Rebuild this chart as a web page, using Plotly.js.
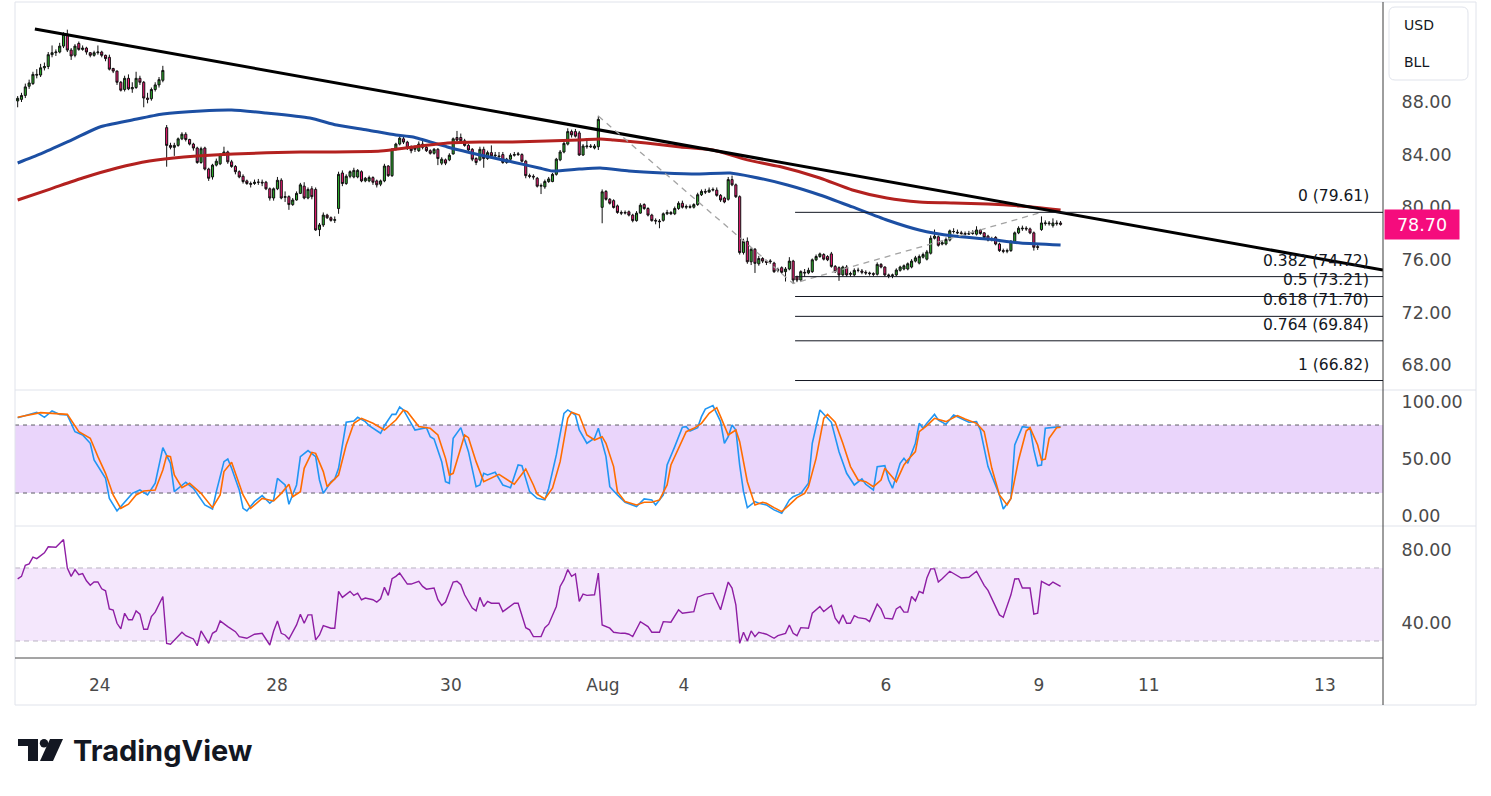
<!DOCTYPE html>
<html>
<head>
<meta charset="utf-8">
<script src="https://cdn.plot.ly/plotly-3.0.1.min.js"></script>
<style>
  html, body { margin: 0; padding: 0; background: #ffffff; }
  #chart { width: 1491px; height: 796px; }
</style>
</head>
<body>
<div id="chart"></div>
<script>
// Hourly candles (bar 0 = first candle on the left)
const openP = [
  88.08,88.2,88.5,89.2,89.4,90.1,90.05,90.6,90.7,91.6,
  91.75,91.8,92.25,93.15,91.95,91.55,92.45,92.0,92.1,91.75,
  91.55,91.75,91.8,91.55,91.4,90.55,90.35,89.5,88.95,89.8,
  89.0,89.1,89.8,89.5,88.3,88.25,88.95,89.3,89.65,86.05,
  84.7,84.55,84.7,85.2,85.55,85.15,84.8,84.5,83.4,84.5,
  82.9,82.3,83.2,83.3,84.0,84.2,83.45,83.1,82.7,82.35,
  82.0,81.8,81.8,81.9,81.9,81.9,81.4,80.7,81.4,82.05,
  80.75,80.8,80.2,80.55,81.05,81.6,80.7,81.4,81.35,78.3,
  78.65,79.4,79.2,79.0,79.9,82.6,81.8,82.35,82.3,82.3,
  82.7,82.0,82.0,82.25,82.0,81.75,82.0,83.13,82.4,84.4,
  84.8,85.2,84.95,84.6,84.4,84.3,84.8,84.55,84.3,84.1,
  84.4,83.35,83.6,83.6,84.05,85.3,85.3,85.05,84.7,84.4,
  83.7,83.6,84.4,83.7,84.15,83.9,83.9,84.0,83.4,83.65,
  83.95,84.0,84.0,83.5,82.4,82.35,82.2,81.6,81.55,81.95,
  81.95,82.5,83.6,84.2,84.8,85.75,85.75,85.65,83.97,84.6,
  84.65,84.5,84.6,79.99,81.2,80.6,80.5,80.1,79.6,79.55,
  79.65,79.4,78.98,79.55,80.2,79.9,79.4,79.0,78.95,79.0,
  79.5,79.6,79.5,79.9,80.3,80.0,80.05,80.0,80.2,80.95,
  81.2,81.15,81.3,81.3,80.9,80.7,80.6,82.1,81.7,80.8,
  76.55,77.4,75.85,76.8,75.7,76.1,75.9,75.85,75.75,75.2,
  75.4,75.1,75.3,75.9,74.7,74.46,75.05,75.0,75.1,76.0,
  76.25,76.4,76.25,76.45,75.5,75.4,74.85,75.45,74.9,74.85,
  75.2,75.15,75.05,75.0,74.95,74.9,75.65,75.45,74.85,74.8,
  74.85,75.2,75.3,75.3,75.45,75.9,75.75,76.2,76.05,76.5,
  77.64,77.75,77.2,77.2,77.5,78.15,78.1,78.05,78.0,77.95,
  78.0,77.95,78.25,78.05,77.8,77.6,77.7,77.2,76.7,76.65,
  76.7,77.35,78.05,78.35,78.4,78.35,78.05,77.0,78.3,78.75,
  78.8,78.6,78.8,78.8
];
const highP = [
  88.45,88.7,89.4,89.7,90.3,90.5,90.9,91.0,91.8,92.3,
  92.0,92.5,93.3,93.5,92.1,92.4,92.6,92.3,92.2,91.8,
  91.9,92.3,91.9,91.6,91.6,90.6,90.4,89.6,90.0,90.1,
  89.5,90.3,90.0,89.6,88.7,89.1,89.5,89.9,90.75,86.25,
  84.9,84.9,85.3,85.7,85.7,85.2,84.9,84.6,84.6,84.6,
  83.0,83.3,83.7,84.1,84.6,84.3,83.6,83.2,82.8,82.5,
  82.1,81.95,82.1,82.15,82.1,82.0,81.5,81.5,82.3,82.2,
  81.2,80.9,80.7,81.2,81.85,81.9,81.5,81.6,81.5,78.8,
  79.6,79.5,79.3,79.3,82.7,82.8,82.5,82.8,83.0,82.9,
  82.8,82.3,82.4,82.35,82.1,82.1,83.3,83.2,84.5,84.9,
  85.5,85.4,85.05,84.7,84.7,85.0,85.1,84.7,84.4,84.5,
  84.5,83.8,83.7,84.1,85.3,85.8,85.6,85.2,84.8,84.5,
  83.8,84.6,84.6,84.3,84.7,84.2,84.2,84.2,83.75,84.1,
  84.2,84.2,84.1,83.6,82.55,82.5,82.3,81.8,82.1,82.3,
  82.6,83.75,84.35,85.0,86.0,85.9,85.95,85.8,84.8,85.05,
  84.8,84.8,86.95,81.35,81.3,80.7,80.6,80.2,79.75,79.75,
  79.75,79.5,79.7,80.3,80.3,80.0,79.5,79.15,79.1,79.6,
  79.8,79.7,80.05,80.45,80.5,80.2,80.2,80.3,81.1,81.35,
  81.4,81.5,81.5,81.5,81.0,80.8,82.3,82.4,81.8,80.9,
  77.6,77.7,76.95,76.9,76.3,76.2,76.0,76.05,75.85,75.4,
  75.5,75.45,76.2,76.0,74.8,75.2,75.3,75.4,76.1,76.4,
  76.55,76.5,76.35,76.6,75.6,75.5,75.55,75.6,75.1,75.35,
  75.4,75.3,75.2,75.1,75.05,75.8,75.75,75.5,74.95,74.95,
  75.35,75.55,75.65,75.8,76.05,76.3,76.4,76.55,76.75,77.85,
  78.3,77.85,77.5,77.7,78.3,78.4,78.3,78.2,78.15,78.2,
  78.25,78.55,78.35,78.1,77.9,77.75,77.8,77.3,76.85,76.85,
  77.5,78.15,78.55,78.6,78.55,78.45,78.15,77.2,79.3,79.0,
  78.95,79.15,79.0,78.95
];
const lowP = [
  87.6,88.0,88.3,89.0,89.3,89.8,89.9,90.4,90.5,91.4,
  91.5,91.7,92.1,91.8,91.2,91.4,91.9,91.9,91.6,91.4,
  91.45,91.6,91.4,91.1,90.4,90.2,89.3,88.8,88.8,88.9,
  88.7,89.0,89.3,87.6,87.9,88.1,88.8,89.1,89.5,83.08,
  84.4,83.9,84.6,85.1,85.0,84.7,84.3,83.3,83.3,82.8,
  82.0,82.1,83.1,83.2,83.9,83.3,83.0,82.5,82.2,81.8,
  81.7,81.5,81.7,81.7,81.6,81.3,80.5,80.5,81.3,80.6,
  80.4,79.8,80.1,80.5,81.0,80.6,80.6,80.6,78.2,77.8,
  78.5,79.1,78.9,78.8,79.5,81.6,81.7,82.2,82.2,82.2,
  81.9,81.9,81.9,81.7,81.5,81.6,81.9,82.3,82.3,84.3,
  84.7,84.8,84.35,84.1,84.2,84.2,84.4,84.2,84.0,84.0,
  83.2,83.2,83.2,83.5,84.0,85.0,84.9,84.6,84.2,83.5,
  83.2,83.5,83.0,83.6,83.8,83.8,83.7,83.3,83.3,83.6,
  83.85,83.9,83.4,82.2,82.2,82.1,81.5,81.0,81.4,81.85,
  81.9,82.4,83.5,84.1,84.7,85.3,85.3,83.9,83.9,84.45,
  84.5,84.4,84.35,78.78,80.5,80.2,79.9,79.5,79.4,79.45,
  79.3,78.85,78.9,79.5,79.8,79.3,78.9,78.7,78.4,78.9,
  79.4,79.4,79.4,79.8,79.9,79.85,79.9,79.9,80.1,80.85,
  81.0,81.1,81.2,80.8,80.4,80.3,80.5,81.6,80.7,76.4,
  76.4,75.7,75.6,75.0,75.55,75.75,75.6,75.7,75.0,75.05,
  74.95,74.35,75.2,74.2,74.3,74.4,74.7,74.9,75.0,75.9,
  76.15,75.95,75.9,75.4,75.0,74.4,74.75,74.7,74.7,74.75,
  75.05,74.9,74.85,74.8,74.75,74.8,75.35,74.75,74.6,74.6,
  74.75,75.1,75.2,75.2,75.35,75.8,75.65,76.1,75.95,76.4,
  77.55,77.0,77.1,77.1,77.4,78.0,77.95,77.9,77.85,77.9,
  77.9,77.85,77.9,77.6,77.4,77.4,77.1,76.6,76.5,76.5,
  76.6,77.3,77.95,78.2,78.2,77.95,76.7,76.75,78.2,78.6,
  78.6,78.45,78.6,78.6
];
const closeP = [
  88.28,88.5,89.15,89.45,90.1,90.05,90.6,90.7,91.6,91.75,
  91.8,92.25,93.15,91.95,91.5,92.25,92.0,92.1,91.8,91.55,
  91.75,91.8,91.55,91.3,90.5,90.35,89.5,88.9,89.8,89.0,
  89.1,89.8,89.5,88.3,88.2,88.95,89.3,89.7,90.4,84.7,
  84.55,84.7,85.2,85.55,85.15,84.8,84.5,83.4,84.45,82.9,
  82.2,83.2,83.5,84.0,84.2,83.45,83.1,82.7,82.3,81.95,
  81.8,81.75,81.9,81.9,81.85,81.4,80.7,81.4,82.05,80.7,
  80.8,80.2,80.55,81.05,81.7,80.7,81.35,80.8,78.27,78.65,
  79.4,79.2,79.0,79.05,82.5,81.8,82.35,82.7,82.8,82.8,
  82.0,82.2,82.25,81.9,81.7,82.0,83.13,82.4,84.4,84.8,
  85.25,84.95,84.5,84.3,84.5,84.8,84.55,84.3,84.1,84.4,
  83.7,83.65,83.35,83.95,85.2,85.1,85.05,84.7,84.35,83.65,
  83.4,84.4,83.7,84.15,83.9,83.95,83.85,83.4,83.65,83.95,
  84.0,84.05,83.5,82.4,82.35,82.3,81.6,81.65,81.95,82.15,
  82.5,83.65,84.2,84.85,85.75,85.5,85.4,83.97,84.65,84.65,
  84.6,84.65,86.68,81.17,80.6,80.3,79.98,79.6,79.55,79.6,
  79.4,78.98,79.55,80.15,79.9,79.4,78.98,78.95,78.9,79.5,
  79.6,79.5,79.9,80.3,80.0,80.05,80.0,80.2,80.95,81.2,
  81.15,81.3,81.35,80.9,80.55,80.4,82.1,81.7,80.8,76.55,
  77.4,75.85,76.8,75.73,76.1,75.9,75.8,75.9,75.1,75.25,
  75.05,75.3,75.9,74.46,74.46,75.1,75.0,75.2,76.0,76.25,
  76.45,76.05,76.0,75.5,75.1,74.85,75.45,74.85,74.95,75.2,
  75.2,75.05,75.0,74.95,74.9,75.65,75.45,74.85,74.8,74.85,
  75.22,75.45,75.55,75.7,75.9,76.15,76.25,76.4,76.6,77.64,
  77.8,77.1,77.3,77.55,78.2,78.15,78.05,78.0,77.95,78.0,
  78.05,78.27,78.0,77.7,77.5,77.55,77.2,76.7,76.65,76.7,
  77.4,78.05,78.4,78.4,78.35,78.05,76.95,76.95,78.8,78.8,
  78.75,78.8,78.75,78.7
];

// Day labels under the chart and the bar each one sits on
const dayLabels = ['24', '28', '30', 'Aug', '4', '6', '9', '11', '13'];
const dayBars = [21.5, 67.9, 113.4, 153.2, 174.4, 227.3, 267.3, 296.1, 342.2];

// Moving averages (blue = faster, red = slower), sampled along the line
const maBlueBar = [0, 6, 13, 21.5, 30, 38, 48, 56, 65, 76.5, 83.5, 91.5, 99, 103.5, 112.5, 121, 129.5, 136.5,
  140, 147, 152.5, 160, 169, 178, 186.5, 192.5, 201.5, 210, 218.5, 227.5, 236, 245, 254, 262.5, 273];
const maBlue = [83.36, 84.05, 84.96, 86.10, 86.63, 87.09, 87.32, 87.39, 87.16, 86.78, 86.25, 85.87, 85.49, 85.34,
  84.58, 83.97, 83.44, 82.98, 82.75, 82.90, 82.98, 82.75, 82.60, 82.52, 82.60, 82.30, 81.69, 80.93, 80.02, 79.03,
  78.27, 77.81, 77.58, 77.28, 77.13];
const maRedBar = [0, 8.5, 17, 26, 34.5, 43.5, 56.5, 74, 82.5, 95, 103.5, 112.5, 121, 129.5, 138.5, 147, 152.5,
  156, 164.5, 173.5, 182, 191, 199.5, 210, 218.5, 227.5, 236, 245, 254, 262.5, 273];
const maRed = [80.55, 81.38, 82.22, 82.98, 83.51, 83.82, 84.05, 84.20, 84.20, 84.27, 84.58, 84.88, 84.96, 84.96,
  85.03, 85.11, 85.19, 85.11, 84.88, 84.58, 84.35, 83.6, 83.09, 82.22, 81.31, 80.70, 80.40, 80.32, 80.24, 80.09, 79.79];

// Drawn trend line and the fib tool
const trendBar = [4.5, 357.4];
const trendPrice = [93.55, 75.22];
const fibPathBar = [152, 203, 268];
const fibPathPrice = [86.93, 74.2, 79.61];
const fibRatios = ['0', '0.382', '0.5', '0.618', '0.764', '1'];
const fibLevels = [79.61, 74.72, 73.21, 71.70, 69.84, 66.82];
const fibStartBar = 203.5;

// Stochastic RSI
const stochKBar = [
  0,2,5,7,9,11,13,15,17,19, 20,23,24,26,28,30,32,34,36,38, 40,41,44,46,49,51,52,54,55,56,
  58,59,60,62,64,66,67,68,70,71, 73,74,76,78,79,80,82,83,84,86, 88,89,91,92,95,96,98,99,100,101,
  103,104,107,108,109,111,112,113,114,116, 118,120,121,122,123,125,127,129,131,132,
  134,136,138,139,141,143,144,146,147,149, 151,152,154,155,157,159,162,164,166,167,
  169,170,172,174,175,176,178,179,180,182, 184,185,186,187,188,189,190,191,193,194,
  196,198,200,202,203,205,207,208,210,212, 213,215,217,219,221,222,224,225,227,228,
  229,231,232,233,235,236,237,238,240,241, 243,245,247,249,251,252,254,257,258,260,
  261,263,265,266,267,268,269,271,273
];
const stochK = [
  86.5,88.3,91.2,86.8,92.4,89.4,88.8,74.1,71.2,63.9, 49.2,33.0,15.3,4.2,12.4,19.7,22.7,18.3,28.6,60.0,
  46.2,21.2,29.5,24.2,9.5,5.9,21.2,47.7,50.0,41.8, 22.7,6.5,4.2,12.4,17.7,11.0,13.9,33.0,27.1,10.1,
  27.1,52.1,57.4,52.1,31.5,19.7,30.0,32.4,41.8,82.4, 83.5,86.8,83.0,79.4,72.7,79.4,89.4,89.4,95.9,93.3,
  81.5,75.6,77.7,69.7,67.7,47.7,30.0,28.6,68.3,77.7, 56.5,25.6,27.1,37.4,35.9,38.3,27.1,24.7,44.7,44.1,
  21.2,15.3,13.9,24.2,53.6,90.3,93.3,88.8,75.6,63.9, 68.3,77.1,52.1,25.6,18.3,11.8,8.0,14.8,13.9,9.5,
  18.3,44.7,60.9,78.0,78.6,74.7,77.7,87.4,94.1,97.1, 83.0,63.9,69.7,80.0,75.6,44.7,21.2,7.1,12.4,10.9,
  9.5,5.1,2.1,13.9,16.8,19.7,28.6,63.9,93.3,85.9, 82.4,56.5,37.4,27.1,32.4,27.7,22.7,43.3,44.1,31.5,
  24.2,46.2,50.6,46.2,63.9,81.5,77.1,81.5,89.4,84.4, 80.6,88.8,85.9,82.4,83.0,75.6,43.3,18.3,5.9,15.3,
  62.4,78.6,77.7,58.0,44.1,44.7,77.1,77.7,78.6
];
const stochDBar = [
  0,6,9,13,16,19,21,23,25,27, 29,31,33,36,38,39,40,41,43,45, 48,51,53,54,56,57,59,61,64,67,
  69,71,72,74,75,77,78,80,81,84, 86,88,90,93,96,99,101,102,105,108, 110,112,113,114,117,118,120,122,124,126,
  130,133,135,136,138,140,142,144,145,147, 149,151,153,154,156,157,159,162,164,166,
  168,170,171,173,175,177,179,181,183,184, 186,188,189,191,193,195,196,198,200,202,
  204,206,207,209,211,212,214,216,218,220, 222,224,226,227,230,232,233,235,236,238,
  240,243,246,248,251,253,255,257,259,260, 262,264,265,267,268,269,270,272,273
];
const stochD = [
  86.9,90.9,90.3,89.4,74.1,68.3,52.1,37.4,18.3,6.5, 10.1,18.3,21.8,22.7,40.3,53.0,52.1,35.9,24.7,28.6,
  19.7,7.1,18.3,38.9,47.1,37.4,18.3,6.5,15.3,13.0, 19.7,27.7,16.8,21.2,41.8,55.9,55.0,38.9,25.6,35.9,
  62.4,81.5,85.9,81.5,75.6,84.4,93.3,91.8,78.6,77.1, 71.2,50.6,35.9,37.4,71.2,68.8,47.7,30.0,33.0,36.5,
  27.7,41.2,27.1,18.9,14.8,24.2,47.7,85.9,91.2,88.8, 71.2,66.8,69.7,63.9,43.3,21.2,12.4,9.5,11.8,11.8,
  13.9,27.1,44.7,59.4,74.1,77.1,81.5,90.3,95.3,87.4, 71.2,75.6,65.3,30.0,9.5,11.8,10.9,7.1,3.6,9.5,
  15.9,19.7,25.6,50.6,85.9,89.4,82.4,63.9,43.3,31.5, 30.0,25.6,31.5,41.8,30.0,44.7,49.2,56.5,74.1,79.4,
  85.9,83.0,88.3,85.3,81.5,74.1,41.8,18.3,9.5,15.3, 49.2,74.7,77.7,62.4,49.2,50.0,68.3,77.7,78.0
];

// RSI
const rsiBar = [
  0,1,2,3,4,5,7,8,10,12, 13,14,15,16,17,18,19,20,21,22, 23,24,25,26,27,28,29,30,31,32,
  33,34,35,36,38,39,40,41,43,44, 46,47,48,50,51,52,53,55,57,58, 60,62,64,66,67,68,69,70,71,73,
  74,75,76,77,78,79,80,82,83,84, 85,87,88,89,90,91,93,94,95,96, 97,98,99,100,102,103,105,106,107,109,
  110,111,112,114,115,116,117,119,120,121, 122,123,124,126,127,128,130,131,133,134,
  135,136,137,138,139,141,142,143,144,145, 146,147,148,149,151,152,153,155,156,158,
  159,160,161,163,165,166,168,169,171,173, 174,177,178,180,182,184,186,187,188,189,
  190,191,192,193,194,196,198,199,201,202, 203,204,205,207,208,210,211,213,214,215,
  216,217,218,219,220,222,223,225,226,227, 229,230,231,232,233,234,235,236,237,238,
  239,240,241,242,244,247,249,251,253,254, 257,258,260,261,262,263,265,266,267,268,
  269,270,271,272,273
];
const rsi = [
  64.0,65.4,71.5,72.2,75.9,75.1,78.3,81.6,81.4,85.6, 70.0,65.4,69.1,66.3,66.9,63.0,60.5,62.3,62.3,58.6,
  57.5,47.6,46.9,39.7,36.6,45.2,41.6,41.6,46.5,44.7, 36.4,36.4,43.4,45.8,54.4,28.7,28.2,30.6,34.8,32.9,
  31.1,27.4,35.5,28.7,34.2,35.5,41.0,37.9,35.1,32.4, 31.5,33.7,34.2,27.8,35.5,41.0,34.2,33.3,31.1,38.8,
  44.7,39.7,44.3,44.3,30.6,33.3,38.4,37.0,37.0,57.2, 53.9,57.2,55.0,56.2,52.6,53.5,52.6,51.3,53.1,59.4,
  55.0,64.1,65.4,67.2,61.2,61.2,62.7,59.9,58.4,59.0, 52.6,49.5,51.3,62.3,62.7,60.8,55.3,48.0,46.5,53.9,
  48.9,51.7,50.7,50.7,46.1,47.6,50.7,50.7,37.3,36.1, 32.4,32.4,32.4,37.3,39.2,48.9,59.9,63.6,69.1,65.4,
  66.7,51.7,55.7,55.0,55.3,67.2,38.8,37.0,34.8,34.2, 34.2,33.7,32.4,40.6,37.9,34.8,34.8,40.6,40.3,47.1,
  45.2,46.1,54.0,55.7,56.2,47.1,62.3,59.0,49.8,28.7, 34.8,30.0,35.5,32.4,34.8,33.7,31.5,32.9,34.2,38.8,
  34.2,32.9,37.3,37.0,45.2,48.9,46.1,49.5,42.5,39.7, 44.3,39.7,39.7,43.9,42.8,42.1,40.6,50.2,47.6,42.5,
  42.1,47.6,48.9,45.8,45.8,54.4,52.0,57.2,56.2,64.5, 69.5,69.5,62.3,64.1,68.2,64.5,64.9,68.2,60.5,57.7,
  44.3,43.0,55.3,64.0,64.1,59.0,59.0,44.7,45.2,62.7, 61.5,60.5,62.3,61.0,59.9
];

const priceTicks = [68, 72, 76, 80, 84, 88];
const stochTicks = [0, 50, 100];
const rsiTicks = [40, 80];

// ---- page geometry: plot area spans x 15..1383, y 3..658 ----
const PX = px => (px - 15) / 1368;
const PY = py => (658 - py) / 655;
const xRange = [-0.7, 357.4];
const FONT = 'DejaVu Sans, sans-serif';
const INK = '#131722';
const AXIS_TXT = '#4a4a4a';
const bars = closeP.map((_, i) => i);

const traces = [
  { x: maBlueBar, y: maBlue, type: 'scatter', mode: 'lines', yaxis: 'y',
    line: { color: '#1c4fa3', width: 3, shape: 'spline', smoothing: 0.6 }, hoverinfo: 'skip' },
  { x: maRedBar, y: maRed, type: 'scatter', mode: 'lines', yaxis: 'y',
    line: { color: '#b3211f', width: 3, shape: 'spline', smoothing: 0.6 }, hoverinfo: 'skip' },
  { x: bars, open: openP, high: highP, low: lowP, close: closeP, type: 'candlestick', yaxis: 'y',
    increasing: { line: { color: '#111111', width: 1 }, fillcolor: '#2aa82a' },
    decreasing: { line: { color: '#111111', width: 1 }, fillcolor: '#ec1a72' },
    whiskerwidth: 0, hoverinfo: 'skip' },
  { x: trendBar, y: trendPrice, type: 'scatter', mode: 'lines', yaxis: 'y',
    line: { color: '#000000', width: 3 }, hoverinfo: 'skip' },
  { x: fibPathBar, y: fibPathPrice, type: 'scatter', mode: 'lines', yaxis: 'y',
    line: { color: '#a3a3a3', width: 1.3, dash: '6px,5px' }, hoverinfo: 'skip' },
  { x: stochKBar, y: stochK, type: 'scatter', mode: 'lines', yaxis: 'y2',
    line: { color: '#2196f3', width: 1.6 }, hoverinfo: 'skip' },
  { x: stochDBar, y: stochD, type: 'scatter', mode: 'lines', yaxis: 'y2',
    line: { color: '#ff6d00', width: 1.6 }, hoverinfo: 'skip' },
  { x: rsiBar, y: rsi, type: 'scatter', mode: 'lines', yaxis: 'y3',
    line: { color: '#8e1ea4', width: 1.4 }, hoverinfo: 'skip' }
];

function hline(yref, y, color, dash, x1) {
  return { type: 'line', xref: 'paper', x0: 0, x1: x1 === undefined ? 1 : x1, yref: yref, y0: y, y1: y,
    line: { color: color, width: 1, dash: dash || 'solid' }, layer: 'below' };
}

const shapes = [
  { type: 'rect', xref: 'paper', x0: 0, x1: 1, yref: 'y2', y0: 20, y1: 80, fillcolor: '#ead5fb', line: { width: 0 }, layer: 'below' },
  hline('y2', 80, '#5d5d66', '4px,4px'),
  hline('y2', 20, '#5d5d66', '4px,4px'),
  { type: 'rect', xref: 'paper', x0: 0, x1: 1, yref: 'y3', y0: 30, y1: 70, fillcolor: '#f4e7fc', line: { width: 0 }, layer: 'below' },
  hline('y3', 70, '#b9b3c2', '5px,4px'),
  hline('y3', 30, '#b9b3c2', '5px,4px'),
  // pane separators and frame
  hline('paper', PY(390), '#e0e3eb', null, PX(1476)),
  hline('paper', PY(526), '#e0e3eb', null, PX(1476)),
  hline('paper', PY(705), '#e0e3eb', null, PX(1476)),
  hline('paper', PY(2), '#e0e3eb', null, PX(1476)),
  { type: 'line', xref: 'paper', x0: 0, x1: 0, yref: 'paper', y0: PY(705), y1: PY(2), line: { color: '#e0e3eb', width: 1 } },
  { type: 'line', xref: 'paper', x0: PX(1476), x1: PX(1476), yref: 'paper', y0: PY(705), y1: PY(2), line: { color: '#e0e3eb', width: 1 } },
  { type: 'line', xref: 'paper', x0: 1, x1: 1, yref: 'paper', y0: PY(705), y1: PY(2), line: { color: '#3d3d3d', width: 1 } },
  { type: 'line', xref: 'paper', x0: 0, x1: 1, yref: 'paper', y0: 0, y1: 0, line: { color: '#4a4a4a', width: 1 } }
];

fibLevels.forEach(lvl => {
  shapes.push({ type: 'line', xref: 'x', x0: fibStartBar, x1: xRange[1], yref: 'y', y0: lvl, y1: lvl,
    line: { color: INK, width: 1 } });
});

// rounded box holding the currency / unit labels
function roundedBox(l, t, r, b, rad) {
  const x0 = PX(l), x1 = PX(r), yt = PY(t), yb = PY(b);
  const rx = rad / 1368, ry = rad / 655;
  const f = v => v.toFixed(5);
  return 'M' + f(x0 + rx) + ',' + f(yt) + ' L' + f(x1 - rx) + ',' + f(yt) +
    ' Q' + f(x1) + ',' + f(yt) + ' ' + f(x1) + ',' + f(yt - ry) +
    ' L' + f(x1) + ',' + f(yb + ry) + ' Q' + f(x1) + ',' + f(yb) + ' ' + f(x1 - rx) + ',' + f(yb) +
    ' L' + f(x0 + rx) + ',' + f(yb) + ' Q' + f(x0) + ',' + f(yb) + ' ' + f(x0) + ',' + f(yb + ry) +
    ' L' + f(x0) + ',' + f(yt - ry) + ' Q' + f(x0) + ',' + f(yt) + ' ' + f(x0 + rx) + ',' + f(yt) + ' Z';
}
shapes.push({ type: 'path', xref: 'paper', yref: 'paper', path: roundedBox(1389, 7, 1468, 80, 6),
  line: { color: '#e0e3eb', width: 1 }, fillcolor: 'rgba(0,0,0,0)' });

// TradingView mark
function poly(pts) {
  return 'M' + pts.map(p => PX(p[0]).toFixed(5) + ',' + PY(p[1]).toFixed(5)).join(' L') + ' Z';
}
shapes.push({ type: 'path', xref: 'paper', yref: 'paper', line: { width: 0 }, fillcolor: INK,
  path: poly([[18, 739], [38, 739], [38, 761], [28, 761], [28, 746], [18, 746]]) });
shapes.push({ type: 'circle', xref: 'paper', yref: 'paper', line: { width: 0 }, fillcolor: INK,
  x0: PX(39.8), x1: PX(48.2), y0: PY(747.5), y1: PY(739.1) });
shapes.push({ type: 'path', xref: 'paper', yref: 'paper', line: { width: 0 }, fillcolor: INK,
  path: poly([[50, 739], [63, 739], [53, 761], [40, 761]]) });

const lastClose = closeP[closeP.length - 1];
const annotations = fibLevels.map((lvl, k) => ({
  xref: 'paper', x: PX(1371), xanchor: 'right', yref: 'y', y: lvl, yanchor: 'bottom', yshift: 5,
  text: fibRatios[k] + ' (' + lvl.toFixed(2) + ')', showarrow: false,
  font: { family: FONT, size: 15.5, color: INK }
}));
annotations.push({
  xref: 'paper', x: 1, xanchor: 'left', xshift: 1, yref: 'y', y: lastClose, yanchor: 'middle',
  text: lastClose.toFixed(2), showarrow: false, bgcolor: '#f50c7d', width: 74, height: 29, borderpad: 0,
  font: { family: FONT, size: 17.5, color: '#ffffff' }
});
annotations.push({ xref: 'paper', x: PX(1402), xanchor: 'left', yref: 'paper', y: PY(25), yanchor: 'middle',
  text: 'USD', showarrow: false, font: { family: FONT, size: 14, color: INK } });
annotations.push({ xref: 'paper', x: PX(1402), xanchor: 'left', yref: 'paper', y: PY(62), yanchor: 'middle',
  text: 'BLL', showarrow: false, font: { family: FONT, size: 14, color: INK } });
annotations.push({ xref: 'paper', x: PX(71), xanchor: 'left', yref: 'paper', y: PY(750), yanchor: 'middle',
  text: '<b>TradingView</b>', showarrow: false, font: { family: 'Inter, Roboto, sans-serif', size: 29, color: INK } });

const yCommon = {
  side: 'right', anchor: 'x', showgrid: false, zeroline: false, showline: false,
  ticks: 'outside', ticklen: 14, tickcolor: 'rgba(0,0,0,0)', tickformat: '.2f',
  tickfont: { family: FONT, size: 17.5, color: AXIS_TXT }, fixedrange: true
};

const layout = {
  width: 1491, height: 796,
  margin: { l: 15, r: 108, t: 3, b: 138 },
  paper_bgcolor: '#ffffff', plot_bgcolor: '#ffffff',
  showlegend: false,
  boxgap: 0.22,
  font: { family: FONT, color: INK },
  xaxis: {
    domain: [0, 1], range: xRange, anchor: 'y3',
    tickmode: 'array', tickvals: dayBars, ticktext: dayLabels,
    ticks: 'outside', ticklen: 12, tickcolor: 'rgba(0,0,0,0)',
    tickfont: { family: FONT, size: 17, color: AXIS_TXT },
    showgrid: false, zeroline: false, showline: false,
    rangeslider: { visible: false }, fixedrange: true
  },
  yaxis: Object.assign({}, yCommon, { domain: [PY(390), 1], range: [66.099, 95.529], tickvals: priceTicks }),
  yaxis2: Object.assign({}, yCommon, { domain: [PY(526), PY(390)], range: [-9.1, 110.9], tickvals: stochTicks }),
  yaxis3: Object.assign({}, yCommon, { domain: [0, PY(526)], range: [20.68, 93.0], tickvals: rsiTicks }),
  shapes: shapes,
  annotations: annotations
};

Plotly.newPlot('chart', traces, layout, { displayModeBar: false, staticPlot: true });
</script>
</body>
</html>
